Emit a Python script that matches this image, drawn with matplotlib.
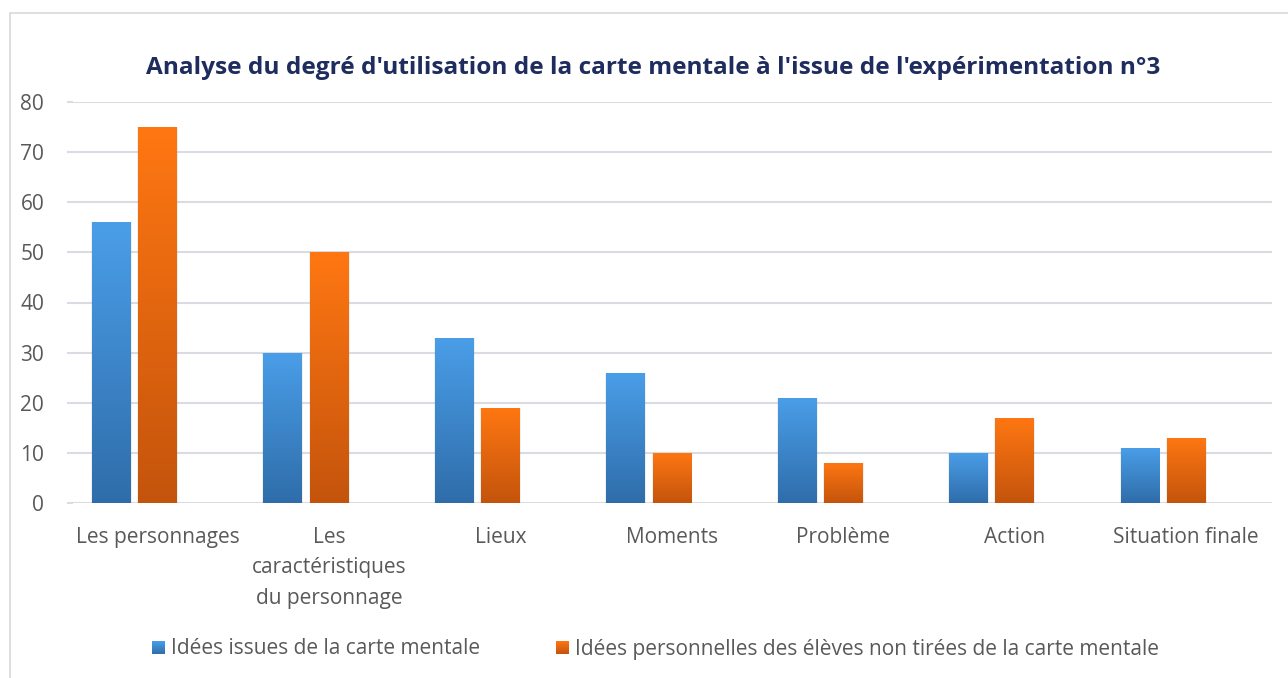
import matplotlib
matplotlib.use("Agg")
import matplotlib.pyplot as plt
import numpy as np
from matplotlib.colors import LinearSegmentedColormap
from matplotlib.patches import Rectangle

categories = ["Les personnages", "Les\ncaractéristiques\ndu personnage", "Lieux",
              "Moments", "Problème", "Action", "Situation finale"]
serie_carte = [56, 30, 33, 26, 21, 10, 11]
serie_perso = [75, 50, 19, 10, 8, 17, 13]
series_names = ["Idées issues de la carte mentale",
                "Idées personnelles des élèves non tirées de la carte mentale"]
title = "Analyse du degré d'utilisation de la carte mentale à l'issue de l'expérimentation n°3"
yticks = [0, 10, 20, 30, 40, 50, 60, 70, 80]

plt.rcParams['font.family'] = ['Open Sans', 'DejaVu Sans']

fig = plt.figure(figsize=(12.88, 6.78), dpi=100)
fig.patch.set_facecolor("white")
fig.patches.append(Rectangle((10/1288, -0.1), 1.2, 1.1 - 13/678, transform=fig.transFigure,
                             fill=False, edgecolor="#D9D9D9", linewidth=1.2))

ax = fig.add_axes([72/1288, 1 - 503/678, (1272-72)/1288, (503-102)/678])

blue_cmap = LinearSegmentedColormap.from_list("b", ["#2F6DAA", "#4A9EE8"])
orange_cmap = LinearSegmentedColormap.from_list("o", ["#C4540C", "#FF7712"])

x = np.arange(len(categories))
w = 0.227
off = 0.27
grad = np.linspace(0, 1, 256).reshape(-1, 1)

def gbar(xc, h, cmap):
    bars = ax.bar([xc], [h], width=w, color="none", edgecolor="none", zorder=3)
    b = bars[0]
    ax.bar([xc], [h], width=w + 0.012, color="#000000", alpha=0.06, zorder=2.5)
    im = ax.imshow(grad, cmap=cmap, aspect="auto", origin="lower",
                   extent=[xc - w/2, xc + w/2, 0, h], zorder=3)
    im.set_clip_path(b)

for i in range(len(categories)):
    gbar(x[i] - off, serie_carte[i], blue_cmap)
    gbar(x[i], serie_perso[i], orange_cmap)

ax.set_xlim(-0.5, len(categories) - 0.5)
ax.set_ylim(0, 80)
ax.set_yticks(yticks)
ax.set_xticks(x)
ax.set_xticklabels(categories, fontsize=15, color="#595959", linespacing=1.6)
ax.tick_params(axis="y", labelsize=15, labelcolor="#595959", length=0, pad=20)
ax.tick_params(axis="x", length=0, pad=17)
ax.grid(axis="y", color="#D9DDE3", linewidth=1.5, zorder=0)
ax.set_axisbelow(True)
for s in ax.spines.values():
    s.set_visible(False)
ax.set_facecolor("none")
for yv in yticks:
    fig.add_artist(plt.Line2D([68/1288, 72/1288], [1 - (503 - yv*401/80)/678]*2,
                              color="#D9DDE3", linewidth=1.5))

fig.text(653.5/1288, 1 - 68/678, title, ha="center", va="center", fontsize=17.55,
         fontweight="bold", color="#1F2D5E")

def leg_item(xpix, cmap, label):
    lax = fig.add_axes([xpix/1288, 1 - 654/678, 13/1288, 13/678])
    lax.imshow(grad, cmap=cmap, aspect="auto", origin="lower", extent=[0, 1, 0, 1])
    lax.axis("off")
    fig.text((xpix + 19)/1288, 1 - 649/678, label, ha="left", va="center",
             fontsize=15, color="#595959")

leg_item(152, blue_cmap, series_names[0])
leg_item(556, orange_cmap, series_names[1])

fig.savefig("out.png", dpi=100)
